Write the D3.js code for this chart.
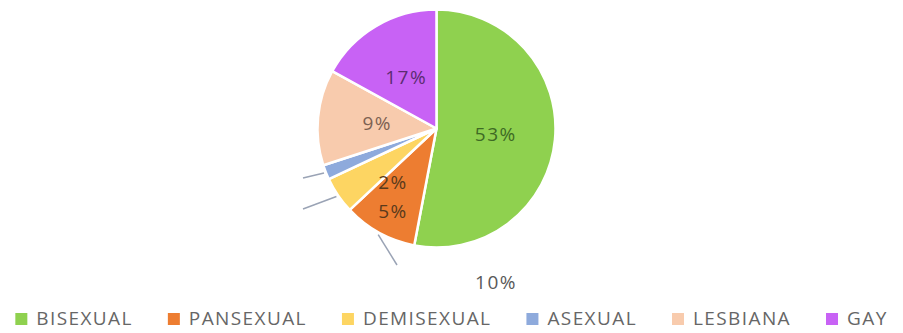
<!DOCTYPE html>
<html>
<head>
<meta charset="utf-8">
<script src="https://cdn.jsdelivr.net/npm/d3@7"></script>
<style>
  html, body { margin: 0; padding: 0; background: #fff; }
  svg { display: block; }
</style>
</head>
<body>
<div id="chart"></div>
<script>
// categories, values and the percentage labels as they appear on the chart
const categories = ["BISEXUAL", "PANSEXUAL", "DEMISEXUAL", "ASEXUAL", "LESBIANA", "GAY"];
const values = [53, 10, 5, 2, 13, 17];
const valueLabels = ["53%", "10%", "5%", "2%", "9%", "17%"];

(function(){
    const width = 903, height = 333;
    const cx = 436.5, cy = 128.5, radius = 119;

    const svg = d3.select("#chart").append("svg")
        .attr("width", width)
        .attr("height", height);

    svg.append("rect").attr("width", width).attr("height", height).attr("fill", "#fff");

    const color = d3.scaleOrdinal()
        .domain(categories)
        .range(["#8fd14f", "#ed7d31", "#fdd562", "#8eaadc", "#f8cbad", "#c862f5"]);

    // dark text colour used on each slice
    const textColor = d3.scaleOrdinal()
        .domain(categories)
        .range(["#3e6a24", "#595959", "#5a3a1c", "#5a3a1c", "#7d6152", "#5b2c72"]);

    const data = categories.map((c, i) => ({ cat: c, value: values[i], label: valueLabels[i] }));

    const pie = d3.pie().value(d => d.value).sort(null);
    const arc = d3.arc().innerRadius(0).outerRadius(radius);
    const edge = d3.arc().innerRadius(radius + 2).outerRadius(radius + 2);

    const g = svg.append("g").attr("transform", `translate(${cx},${cy})`);
    const arcs = pie(data);

    g.selectAll("path.slice")
        .data(arcs)
        .join("path")
        .attr("class", "slice")
        .attr("d", arc)
        .attr("fill", d => color(d.data.cat))
        .attr("stroke", "#fff")
        .attr("stroke-width", 2.5)
        .attr("stroke-linejoin", "round");

    // labels that were dragged out of place in the original, plus leader line ends
    const moved = {
        PANSEXUAL: { label: [59.5, 153.5], line: [-39.5, 136.5] },
        DEMISEXUAL: { label: [-43.5, 82.5], line: [-133.5, 80.5] },
        ASEXUAL: { label: [-43.5, 53.5], line: [-133.5, 49.5] }
    };

    g.selectAll("line.leader")
        .data(arcs.filter(d => moved[d.data.cat]))
        .join("line")
        .attr("class", "leader")
        .attr("x1", d => edge.centroid(d)[0])
        .attr("y1", d => edge.centroid(d)[1])
        .attr("x2", d => moved[d.data.cat].line[0])
        .attr("y2", d => moved[d.data.cat].line[1])
        .attr("stroke", "#9aa3b5")
        .attr("stroke-width", 1.5);

    g.selectAll("text.val")
        .data(arcs)
        .join("text")
        .attr("class", "val")
        .attr("transform", d => {
            const p = moved[d.data.cat] ? moved[d.data.cat].label : arc.centroid(d);
            return `translate(${p[0]},${p[1]})`;
        })
        .attr("text-anchor", "middle")
        .attr("dy", "0.35em")
        .style("font-family", "'Open Sans', sans-serif")
        .style("font-size", "19px")
        .style("letter-spacing", "1.5px")
        .attr("fill", d => textColor(d.data.cat))
        .text(d => d.data.label);

    // legend along the bottom, centred
    const legend = svg.append("g").attr("class", "legend");
    const items = legend.selectAll("g.item")
        .data(categories)
        .join("g")
        .attr("class", "item");

    items.append("rect")
        .attr("x", 0).attr("y", -12)
        .attr("width", 12).attr("height", 12)
        .attr("fill", d => color(d));

    items.append("text")
        .attr("x", 21).attr("y", 0)
        .style("font-family", "'Open Sans', sans-serif")
        .style("font-size", "19px")
        .style("letter-spacing", "1.4px")
        .attr("fill", "#666")
        .text(d => d);

    const gap = 35;
    let widths = [];
    items.each(function(){
        widths.push(21 + d3.select(this).select("text").node().getComputedTextLength());
    });
    const total = d3.sum(widths) + gap * (widths.length - 1);
    let x = width / 2 - total / 2;
    items.attr("transform", (d, i) => {
        const t = `translate(${x},325)`;
        x += widths[i] + gap;
        return t;
    });
})();
</script>
</body>
</html>
